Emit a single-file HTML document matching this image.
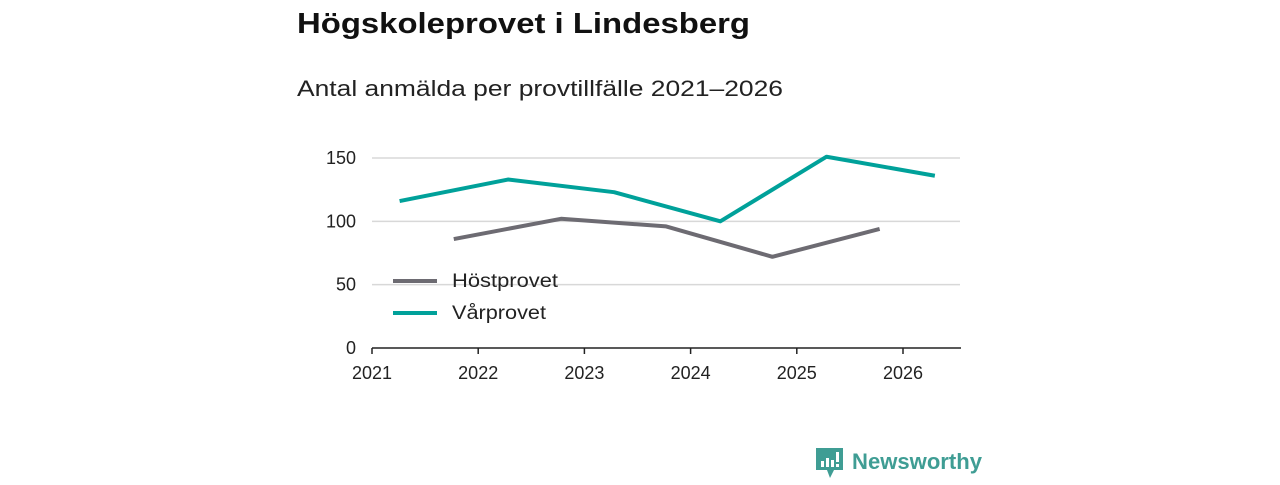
<!DOCTYPE html>
<html><head><meta charset="utf-8"><style>
body{margin:0;background:#fff;width:1280px;height:480px;overflow:hidden;font-family:"Liberation Sans",sans-serif}
</style></head><body>
<svg width="1280" height="480" id="svg">
<text x="297" y="33" font-size="29" font-weight="bold" fill="#111" textLength="453" lengthAdjust="spacingAndGlyphs">Högskoleprovet i Lindesberg</text>
<text x="297" y="96" font-size="22" fill="#222" textLength="486" lengthAdjust="spacingAndGlyphs">Antal anmälda per provtillfälle 2021–2026</text>
<g id="grid"></g><g id="lines"></g>
<g>
<line x1="393" y1="281" x2="437" y2="281" stroke="#6d6b72" stroke-width="4"/>
<text x="452" y="287" font-size="19" fill="#222" textLength="106" lengthAdjust="spacingAndGlyphs">Höstprovet</text>
<line x1="393" y1="313" x2="437" y2="313" stroke="#00a19a" stroke-width="4"/>
<text x="452" y="319" font-size="19" fill="#222" textLength="94" lengthAdjust="spacingAndGlyphs">Vårprovet</text>
</g>
<g>
<path d="M816 448h27v22h-9l-4 8l-3-8h-11z" fill="#3f9d94"/>
<rect x="821" y="461" width="3" height="6" fill="#fff"/><rect x="826" y="458" width="3" height="9" fill="#fff"/><rect x="831" y="460" width="3" height="7" fill="#fff"/><rect x="836" y="452" width="3" height="10" fill="#fff"/><rect x="836" y="464" width="3" height="3" fill="#fff"/>
<text x="852" y="469" font-size="22" font-weight="bold" fill="#3f9d94" textLength="130" lengthAdjust="spacingAndGlyphs">Newsworthy</text>
</g>
</svg>
<script>
const yTicks=[0,50,100,150];
const xTicks=[2021,2022,2023,2024,2025,2026];
const varDates=[2021.26,2022.28,2023.28,2024.28,2025.28,2026.3];
const varValues=[116,133,123,100,151,136];
const hostDates=[2021.77,2022.78,2023.77,2024.77,2025.78];
const hostValues=[86,102,96,72,94];
const NS='http://www.w3.org/2000/svg';
const x=d=>372+(d-2021)*106.2, y=v=>348-v*1.2667;
const grid=document.getElementById('grid'), lines=document.getElementById('lines');
function mk(tag,a,p){const e=document.createElementNS(NS,tag);for(const k in a)e.setAttribute(k,a[k]);p.appendChild(e);return e;}
yTicks.forEach(t=>{
 if(t>0){const l=mk('line',{x1:372,x2:960,y1:y(t),y2:y(t),stroke:'#d8d8d8','stroke-width':1.5},grid);
 
 }
 const tx=mk('text',{x:356,y:y(t)+6,'font-size':18,fill:'#222','text-anchor':'end'},grid);tx.textContent=t;
 
 
});
const ax=mk('line',{x1:372,x2:961,y1:348,y2:348,stroke:'#222','stroke-width':1.5},grid);


xTicks.forEach(t=>{
 mk('line',{x1:x(t),x2:x(t),y1:348,y2:354,stroke:'#222','stroke-width':1.5},grid);
 const tx=mk('text',{x:x(t),y:379,'font-size':18,fill:'#222','text-anchor':'middle'},grid);tx.textContent=t;
 
 
});
function series(ds,vs,col,name){
 const p=mk('polyline',{points:ds.map((d,i)=>x(d)+','+y(vs[i])).join(' '),fill:'none',stroke:col,'stroke-width':4,'stroke-linejoin':'round'},lines);
 
 
}
series(hostDates,hostValues,'#6d6b72','line-hostprovet');
series(varDates,varValues,'#00a19a','line-varprovet');
</script>
</body></html>
